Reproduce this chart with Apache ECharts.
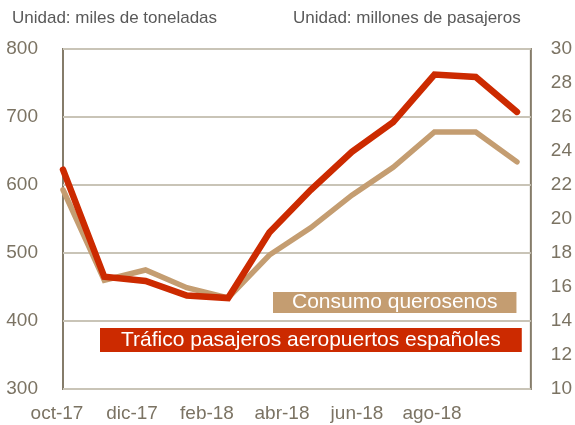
<!DOCTYPE html>
<html>
<head>
<meta charset="utf-8">
<script src="https://cdn.jsdelivr.net/npm/echarts@6/dist/echarts.min.js"></script>
<style>html,body{margin:0;padding:0;background:#fff}#c{width:575px;height:425px}</style>
</head>
<body>
<div id="c"></div>
<script>
const months = ['oct-17','nov-17','dic-17','ene-18','feb-18','mar-18','abr-18','may-18','jun-18','jul-18','ago-18','sep-18'];
const keroseneName = 'Consumo querosenos';
const passengerName = 'Tráfico pasajeros aeropuertos españoles';
const kerosene = [593, 460, 475, 449, 434, 497, 537, 585, 626, 678, 678, 634];
const passengers = [22.9, 16.6, 16.35, 15.5, 15.35, 19.2, 21.7, 23.95, 25.7, 28.5, 28.35, 26.3];
const leftUnit = 'Unidad: miles de toneladas';
const rightUnit = 'Unidad: millones de pasajeros';
const leftTicks = {min: 300, max: 800, interval: 100};
const rightTicks = {min: 10, max: 30, interval: 2};

const axisText = '#7b7363';
const chart = echarts.init(document.getElementById('c'), null, {renderer: 'canvas'});
chart.setOption({
  animation: false,
  backgroundColor: '#ffffff',
  title: [
    {text: leftUnit, left: 12, top: 10, padding: 0, textStyle: {fontFamily: 'Liberation Sans', fontSize: 17, fontWeight: 'normal', color: '#595959'}},
    {text: rightUnit, left: 293, top: 10, padding: 0, textStyle: {fontFamily: 'Liberation Sans', fontSize: 17, fontWeight: 'normal', color: '#595959'}},
    {text: keroseneName, left: 273, top: 292, padding: [0, 19], backgroundColor: '#c49d71', textStyle: {fontFamily: 'Liberation Sans', fontSize: 21, lineHeight: 21, fontWeight: 'normal', color: '#ffffff'}},
    {text: passengerName, left: 100, top: 328, padding: [0, 21], backgroundColor: '#cc2a00', textStyle: {fontFamily: 'Liberation Sans', fontSize: 21, lineHeight: 24, fontWeight: 'normal', color: '#ffffff'}}
  ],
  grid: [
    {left: 63, right: 39, top: 49, bottom: 36, show: true, borderColor: '#857c6a', borderWidth: 2, backgroundColor: 'transparent'},
    {left: 63, right: 58, top: 49, bottom: 36},
    {left: 57, right: 105.5, top: 49, bottom: 36}
  ],
  xAxis: [
    {gridIndex: 0, type: 'category', data: months, show: false},
    {gridIndex: 1, type: 'category', data: months, boundaryGap: false, show: false},
    {gridIndex: 2, type: 'category', data: months, boundaryGap: false,
     axisLine: {show: false}, axisTick: {show: false}, splitLine: {show: false},
     axisLabel: {interval: 1, margin: 15, color: axisText, fontFamily: 'Liberation Sans', fontSize: 19}}
  ],
  yAxis: [
    {gridIndex: 0, type: 'value', min: leftTicks.min, max: leftTicks.max, interval: leftTicks.interval,
     axisLine: {show: false}, axisTick: {show: false},
     splitLine: {show: true, lineStyle: {color: '#c9c4b7', width: 2}},
     axisLabel: {margin: 25, color: axisText, fontFamily: 'Liberation Sans', fontSize: 19}},
    {gridIndex: 0, type: 'value', position: 'right', min: rightTicks.min, max: rightTicks.max, interval: rightTicks.interval,
     axisLine: {show: false}, axisTick: {show: false}, splitLine: {show: false},
     axisLabel: {margin: 20, color: axisText, fontFamily: 'Liberation Sans', fontSize: 19}},
    {gridIndex: 1, type: 'value', min: leftTicks.min, max: leftTicks.max, show: false},
    {gridIndex: 1, type: 'value', min: rightTicks.min, max: rightTicks.max, show: false},
    {gridIndex: 2, type: 'value', show: false}
  ],
  series: [
    {name: keroseneName, type: 'line', xAxisIndex: 1, yAxisIndex: 2, data: kerosene, showSymbol: false,
     lineStyle: {color: '#c49d71', width: 5.5, cap: 'round', join: 'miter'}, z: 2},
    {name: passengerName, type: 'line', xAxisIndex: 1, yAxisIndex: 3, data: passengers, showSymbol: false,
     lineStyle: {color: '#cc2a00', width: 6.5, cap: 'round', join: 'miter'}, z: 3}
  ]
});
</script>
</body>
</html>
